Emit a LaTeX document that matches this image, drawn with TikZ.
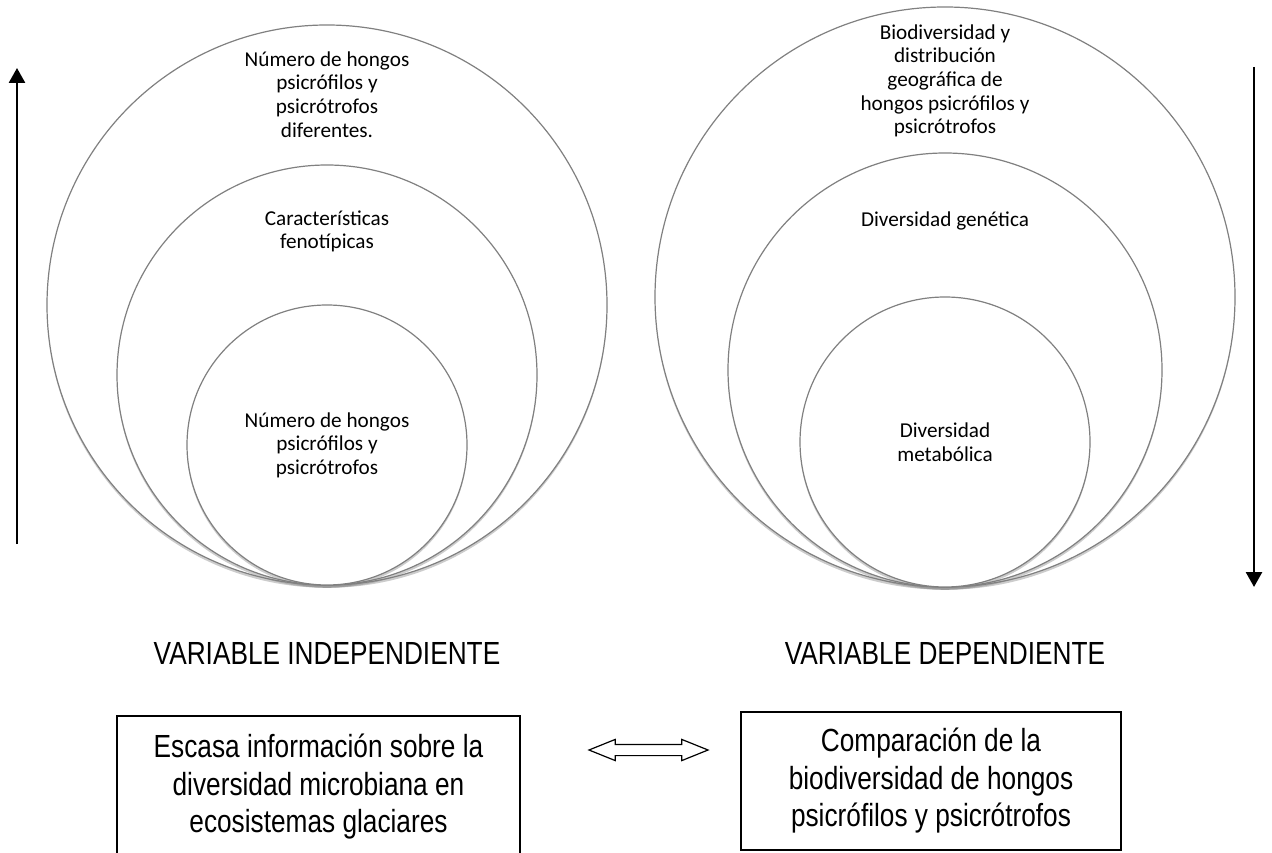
\documentclass[tikz,border=0pt]{standalone}
\usepackage{fontspec}
\newfontfamily\circfont{Carlito}
\newfontfamily\narrowfont[FakeStretch=0.82]{Liberation Sans}
\usetikzlibrary{arrows.meta,positioning,shadows,shapes.arrows}
\newcommand\ringfont{\circfont\fontsize{10.6}{11.8}\selectfont}
\newcommand\boxfont{\narrowfont\fontsize{16}{18.75}\selectfont}

\begin{document}
\begin{tikzpicture}[x=1pt,y=1pt,
    ring/.style={circle,draw=black!50,line width=0.6pt,fill=white,inner sep=0pt,
      drop shadow={shadow xshift=0pt,shadow yshift=-1.4pt,opacity=0.4}},
    ringtext/.style={align=center,font=\ringfont,inner sep=0pt},
    varlabel/.style={font=\boxfont,inner sep=0pt},
    infobox/.style={draw,line width=0.7pt,align=center,font=\boxfont,inner sep=0pt},
    bigarrow/.style={line width=1.35pt,-{Triangle[length=7.5pt,width=8pt]}}]
  \clip (0,0) rectangle (636,426);

  % independent variable: nested circles
  \node[ring,minimum size=280pt] (outerL) at (163.5,273.5) {};
  \node[ring,minimum size=210pt] (midL) at (163.5,238.5) {};
  \node[ring,minimum size=140pt] (innerL) at (163.5,203.5) {};
  \node[ringtext,below=13.4pt of outerL.north] (outerLtext)
    {Número de hongos\\psicrófilos y\\psicrótrofos\\diferentes.};
  \node[ringtext,below=22.9pt of midL.north] (midLtext)
    {Características\\fenotípicas};
  \node[ringtext] (innerLtext) at (innerL)
    {Número de hongos\\psicrófilos y\\psicrótrofos};

  % dependent variable: nested circles
  \node[ring,minimum size=290pt] (outerR) at (472.5,277.5) {};
  \node[ring,minimum size=217pt] (midR) at (472.5,241) {};
  \node[ring,minimum size=145pt] (innerR) at (472.5,205) {};
  \node[ringtext,below=8.9pt of outerR.north] (outerRtext)
    {Biodiversidad y\\distribución\\geográfica de\\hongos psicrófilos y\\psicrótrofos};
  \node[ringtext,below=29.4pt of midR.north] (midRtext)
    {Diversidad genética};
  \node[ringtext] (innerRtext) at (innerR)
    {Diversidad\\metabólica};

  % side arrows
  \coordinate (upfrom) at (8.5,154);
  \coordinate (upto) at (8.5,392);
  \draw[bigarrow] (upfrom) -- (upto);
  \coordinate (downfrom) at (627,392.5);
  \coordinate (downto) at (627,132.5);
  \draw[bigarrow] (downfrom) -- (downto);

  % labels
  \node[varlabel,below=28pt of outerL.south] (labL) {VARIABLE INDEPENDIENTE};
  \node[varlabel,below=27pt of outerR.south] (labR) {VARIABLE DEPENDIENTE};

  % boxes
  \node[infobox,minimum width=201.5pt,minimum height=71pt] (causeBox) at (159.25,32.5)
    {Escasa información sobre la\\diversidad microbiana en\\ecosistemas glaciares};
  \node[infobox,minimum width=190pt,minimum height=69pt] (effectBox) at (465.5,35.5)
    {Comparación de la\\biodiversidad de hongos\\psicrófilos y psicrótrofos};
  \node[double arrow,draw,fill=white,line width=0.6pt,inner xsep=0pt,inner ysep=2.5pt,
    minimum height=59.5pt,
    double arrow head extend=2.5pt,double arrow tip angle=44] (link) at (324.25,51) {};
\end{tikzpicture}
\end{document}
